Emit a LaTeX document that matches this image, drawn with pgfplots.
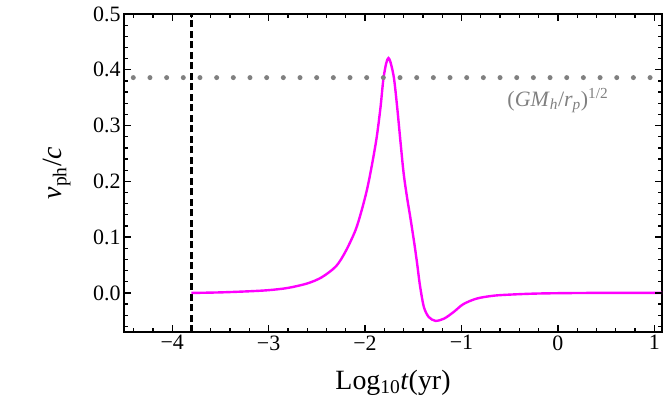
\documentclass[border=0pt]{standalone}
\usepackage{fontspec}
\setmainfont{Liberation Serif}
\usepackage{pgfplots}
\pgfplotsset{compat=1.18}
\definecolor{vcurve}{RGB}{255,0,255}
\definecolor{refgray}{RGB}{128,128,128}

\begin{document}
\begin{tikzpicture}
\begin{axis}[scale only axis,width=538bp,height=318bp,
  xmin=-4.5,xmax=1.08,ymin=-0.07,ymax=0.5,
  xtick={-4,-3,-2,-1,0,1},xticklabels={−4,−3,−2,−1,0,1},
  ytick={0,0.1,0.2,0.3,0.4,0.5},yticklabels={0.0,0.1,0.2,0.3,0.4,0.5},
  tick align=inside,major tick length=6.5bp,
  major tick style={draw=black,line width=1.4bp},
  axis line style={black,line width=1.3bp},
  tick label style={font=\fontsize{22}{22}\selectfont},
  xlabel={Log\textsubscript{10}\textit{t}(yr)},
  ylabel={\textit{v}\textsubscript{ph}/\textit{c}},
  label style={font=\fontsize{28}{28}\selectfont},
  xlabel style={at={(axis description cs:0.5,-0.16)},anchor=center},
  ylabel style={at={(axis description cs:-0.125,0.5)},anchor=center}]
% dashed marker at the start of the curve
\addplot[black,line width=2.2bp,dash pattern=on 7bp off 3.5bp] coordinates {(-3.8,-0.07) (-3.8,0.5)};
\addplot[vcurve,line width=2.4bp,smooth] coordinates {
  (-3.8,0.000) (-3.5,0.001) (-3.2,0.003) (-3.0,0.005) (-2.8,0.009)
  (-2.6,0.017) (-2.45,0.028) (-2.3,0.048) (-2.2,0.075) (-2.1,0.112)
  (-2.04,0.145) (-1.98,0.185) (-1.93,0.228) (-1.88,0.278) (-1.84,0.332)
  (-1.81,0.383) (-1.78,0.412) (-1.757,0.421) (-1.735,0.413) (-1.70,0.385)
  (-1.665,0.33) (-1.633,0.272) (-1.60,0.215) (-1.565,0.172) (-1.53,0.135)
  (-1.49,0.090) (-1.46,0.053) (-1.43,0.013) (-1.39,-0.025) (-1.34,-0.043)
  (-1.27,-0.050) (-1.18,-0.046) (-1.08,-0.034) (-0.98,-0.020) (-0.84,-0.010)
  (-0.67,-0.005) (-0.5,-0.003) (-0.2,-0.001) (0.3,0.000) (1.08,0.000)};
% reference level
\addplot[refgray,line width=5bp,line cap=round,dash pattern=on 0bp off 16.67bp,dash phase=7.37bp] coordinates {(-4.5,0.386) (1.08,0.386)};
\node[refgray,font=\fontsize{22}{22}\selectfont] at (axis cs:0,0.345)
  {(\textit{GM}\textsubscript{\textit{h}}/\textit{r}\textsubscript{\textit{p}})\textsuperscript{1/2}};
% frame ticks, all four sides
\pgfplotsinvokeforeach{-4.4,-4.2,-4,-3.8,-3.6,-3.4,-3.2,-3,-2.8,-2.6,-2.4,-2.2,-2,-1.8,-1.6,-1.4,-1.2,-1,-0.8,-0.6,-0.4,-0.2,0,0.2,0.4,0.6,0.8,1}{
  \draw[black,line width=1.3bp] (axis cs:#1,-0.07) -- ++(0pt,4bp);
  \draw[black,line width=1.3bp] (axis cs:#1,0.5) -- ++(0pt,-4bp);}
\pgfplotsinvokeforeach{-4,-3,-2,-1,0,1}{
  \draw[black,line width=1.4bp] (axis cs:#1,-0.07) -- ++(0pt,7bp);
  \draw[black,line width=1.4bp] (axis cs:#1,0.5) -- ++(0pt,-7bp);}
\pgfplotsinvokeforeach{-0.06,-0.04,-0.02,0,0.02,0.04,0.06,0.08,0.1,0.12,0.14,0.16,0.18,0.2,0.22,0.24,0.26,0.28,0.3,0.32,0.34,0.36,0.38,0.4,0.42,0.44,0.46,0.48}{
  \draw[black,line width=1.3bp] (axis cs:-4.5,#1) -- ++(4bp,0pt);
  \draw[black,line width=1.3bp] (axis cs:1.08,#1) -- ++(-4bp,0pt);}
\pgfplotsinvokeforeach{0,0.1,0.2,0.3,0.4}{
  \draw[black,line width=1.4bp] (axis cs:-4.5,#1) -- ++(7bp,0pt);
  \draw[black,line width=1.4bp] (axis cs:1.08,#1) -- ++(-7bp,0pt);}
\end{axis}
\path (-124bp,-83bp) rectangle (540bp,332bp);
\end{tikzpicture}
\end{document}
